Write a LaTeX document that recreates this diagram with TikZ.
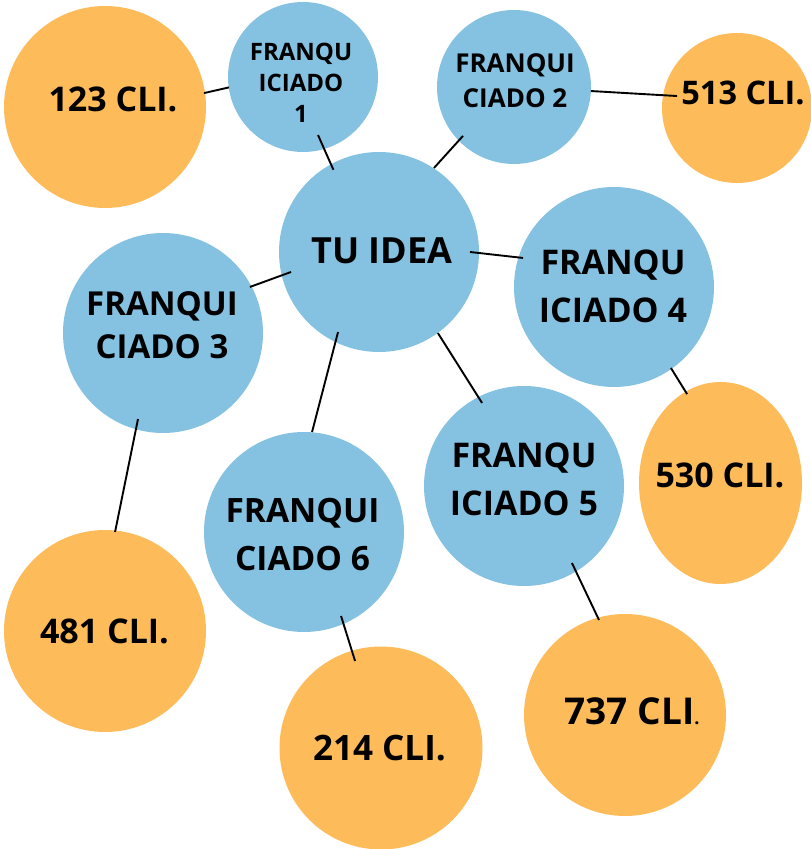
\documentclass[tikz,border=0pt]{standalone}
\usepackage{fontspec}
\setmainfont{Open Sans}
\usetikzlibrary{calc,shapes.geometric}
\definecolor{fblue}{RGB}{133,193,224}
\definecolor{forange}{RGB}{254,187,89}
\tikzset{
  bub/.style={circle,fill=fblue,draw=none,inner sep=0pt,minimum size=#1},
  cli/.style={circle,fill=forange,draw=none,inner sep=0pt,minimum size=#1},
  conn/.style={draw=black,line width=1.9pt},
  txt/.style={inner sep=0pt,align=center,font=\bfseries\fontsize{#1}{#1}\selectfont},
  mtxt/.style 2 args={inner sep=0pt,align=center,font=\bfseries\fontsize{#1}{#2}\selectfont}
}
\begin{document}
\begin{tikzpicture}[x=1pt,y=1pt]
\useasboundingbox (0,0) rectangle (811,849);
% circles
\node[cli=202] (c123) at (105,742) {};
\node[bub=150] (f1) at (303,772) {};
\node[bub=154] (f2) at (514,762) {};
\node[cli=150] (c513) at (737,741) {};
\node[bub=200] (tu) at (379,597) {};
\node[bub=200] (f3) at (163,516) {};
\node[bub=200] (f4) at (614,562) {};
\node[ellipse,fill=forange,draw=none,inner sep=0pt,minimum width=163,minimum height=202] (c530) at (720.5,366) {};
\node[bub=200] (f5) at (524,363) {};
\node[bub=200] (f6) at (304,317) {};
\node[cli=202] (c481) at (105,218) {};
\node[cli=203] (c214) at (381,101) {};
\node[cli=202] (c737) at (625,134) {};
% connectors
\draw[conn] ($(c123)+(8:100)$) -- ($(f1)+(188:74.7)$);
\draw[conn] ($(f1)+(-75.5:60)$) -- ($(tu)+(119:94)$);
\draw[conn] ($(f2)+(223.8:70.7)$) -- ($(tu)+(56.8:100.4)$);
\draw[conn] ($(f2)+(-3:77)$) -- ($(c513)+(168.7:61)$);
\draw[conn] ($(tu)+(0:91)$) -- ($(f4)+(162.3:95.5)$);
\draw[conn] ($(tu)+(192.8:90.2)$) -- ($(f3)+(27.9:98.4)$);
\draw[conn] ($(tu)+(242.9:89.9)$) -- ($(f6)+(85.4:100.3)$);
\draw[conn] ($(tu)+(-54:100.2)$) -- ($(f5)+(116.8:93)$);
\draw[conn] ($(f4)+(-54.9:99)$) -- ($(c530)+(110.6:95)$);
\draw[conn] ($(f3)+(-106.2:89.6)$) -- ($(c481)+(84.2:99.5)$);
\draw[conn] ($(f6)+(-66.2:91.8)$) -- ($(c214)+(106.6:90.8)$);
\draw[conn] ($(f5)+(-58.1:90.7)$) -- ($(c737)+(105.3:98.5)$);
% texts
\node[txt=34] (t123) at (113,749.5) {123 CLI.};
\node[mtxt={24}{31}] (tf1) at (301,766) {FRANQU\\ICIADO\\1};
\node[mtxt={26}{35}] (tf2) at (515,768) {FRANQUI\\CIADO 2};
\node[txt=32.5] (t513) at (743,756.5) {513 CLI.};
\node[txt=36] (ttu) at (382,598) {TU IDEA};
\node[mtxt={34}{48}] (tf4) at (613,563) {FRANQU\\ICIADO 4};
\node[mtxt={34}{48}] (tf5) at (524,370) {FRANQU\\ICIADO 5};
\node[txt=34] (t530) at (720,373.5) {530 CLI.};
\node[mtxt={33}{43}] (tf3) at (162,523.5) {FRANQUI\\CIADO 3};
\node[mtxt={33.5}{48}] (tf6) at (302.5,314.5) {FRANQUI\\CIADO 6};
\node[txt=34] (t481) at (104.5,218) {481 CLI.};
\node[txt=35] (t214) at (379.5,101) {214 CLI.};
\node[txt=37] (t737) at (632,137.5) {737 CLI{\fontsize{18}{18}\selectfont.}};
\end{tikzpicture}
\end{document}
